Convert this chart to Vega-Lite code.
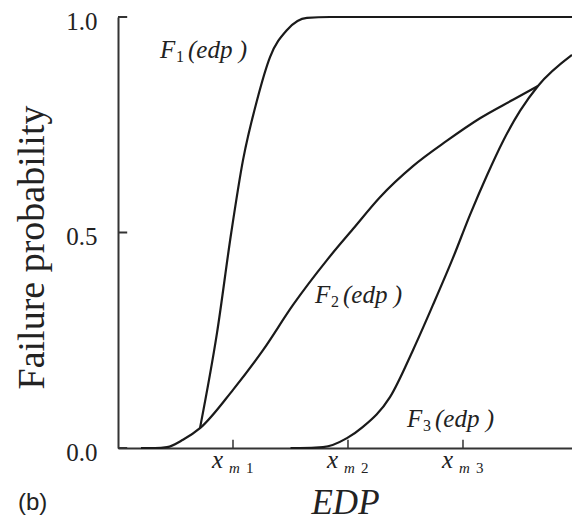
{
  "$schema": "https://vega.github.io/schema/vega-lite/v6.json",
  "width": 454,
  "height": 431,
  "autosize": {"type": "none"},
  "padding": {"left": 118, "top": 17, "right": 0, "bottom": 75},
  "background": "white",
  "config": {"view": {"stroke": null}},
  "title": {"text": "(b)", "orient": "bottom", "anchor": "start", "frame": "group", "dx": -100, "dy": -14, "font": "Liberation Sans", "fontSize": 24, "fontWeight": "normal", "color": "#222", "baseline": "alphabetic"},
  "datasets": {
    "curves": [
      {"curve": "F1", "edp": 0.713, "p": 0.046},
      {"curve": "F1", "edp": 0.861, "p": 0.267},
      {"curve": "F1", "edp": 0.985, "p": 0.5},
      {"curve": "F1", "edp": 1.087, "p": 0.668},
      {"curve": "F1", "edp": 1.209, "p": 0.807},
      {"curve": "F1", "edp": 1.322, "p": 0.907},
      {"curve": "F1", "edp": 1.47, "p": 0.97},
      {"curve": "F1", "edp": 1.643, "p": 0.998},
      {"curve": "F1", "edp": 1.843, "p": 1.0},
      {"curve": "F1", "edp": 3.948, "p": 1.0},
      {"curve": "F2", "edp": 0.2, "p": 0.0},
      {"curve": "F2", "edp": 0.322, "p": 0.0},
      {"curve": "F2", "edp": 0.426, "p": 0.002},
      {"curve": "F2", "edp": 0.565, "p": 0.019},
      {"curve": "F2", "edp": 0.713, "p": 0.046},
      {"curve": "F2", "edp": 1.0, "p": 0.135},
      {"curve": "F2", "edp": 1.261, "p": 0.227},
      {"curve": "F2", "edp": 1.522, "p": 0.332},
      {"curve": "F2", "edp": 1.817, "p": 0.436},
      {"curve": "F2", "edp": 2.043, "p": 0.508},
      {"curve": "F2", "edp": 2.278, "p": 0.582},
      {"curve": "F2", "edp": 2.565, "p": 0.654},
      {"curve": "F2", "edp": 2.861, "p": 0.713},
      {"curve": "F2", "edp": 3.148, "p": 0.765},
      {"curve": "F2", "edp": 3.435, "p": 0.808},
      {"curve": "F2", "edp": 3.652, "p": 0.84},
      {"curve": "F3", "edp": 1.5, "p": 0.0},
      {"curve": "F3", "edp": 1.583, "p": 0.0},
      {"curve": "F3", "edp": 1.783, "p": 0.002},
      {"curve": "F3", "edp": 1.991, "p": 0.023},
      {"curve": "F3", "edp": 2.13, "p": 0.049},
      {"curve": "F3", "edp": 2.365, "p": 0.118},
      {"curve": "F3", "edp": 2.565, "p": 0.227},
      {"curve": "F3", "edp": 2.739, "p": 0.332},
      {"curve": "F3", "edp": 2.913, "p": 0.441},
      {"curve": "F3", "edp": 3.061, "p": 0.541},
      {"curve": "F3", "edp": 3.209, "p": 0.633},
      {"curve": "F3", "edp": 3.348, "p": 0.712},
      {"curve": "F3", "edp": 3.496, "p": 0.782},
      {"curve": "F3", "edp": 3.652, "p": 0.84},
      {"curve": "F3", "edp": 3.948, "p": 0.912}
    ],
    "labels": [
      {"edp": 0.365, "p": 0.905, "sub": "1"},
      {"edp": 1.713, "p": 0.336, "sub": "2"},
      {"edp": 2.513, "p": 0.049, "sub": "3"}
    ],
    "xticks": [
      {"edp": 1, "p": 0, "d": "1"},
      {"edp": 2, "p": 0, "d": "2"},
      {"edp": 3, "p": 0, "d": "3"}
    ],
    "yticks": [
      {"edp": 0, "p": 0}, {"edp": 0, "p": 0.5}, {"edp": 0, "p": 1}
    ]
  },
  "encoding": {
    "x": {"field": "edp", "type": "quantitative",
          "scale": {"domain": [0, 3.948], "nice": false},
          "axis": {"title": "EDP", "labels": false, "ticks": false, "grid": false,
                   "domainColor": "#333", "domainWidth": 2,
                   "titleFont": "Liberation Serif", "titleFontStyle": "italic", "titleFontWeight": "normal",
                   "titleFontSize": 35, "titleColor": "#222", "titleBaseline": "alphabetic", "titleY": 65}},
    "y": {"field": "p", "type": "quantitative",
          "scale": {"domain": [0, 1], "nice": false},
          "axis": {"title": "Failure probability", "values": [0, 0.5, 1], "format": ".1f",
                   "ticks": false, "grid": false, "domainColor": "#333", "domainWidth": 2,
                   "labelFont": "Liberation Serif", "labelFontSize": 25, "labelColor": "#222",
                   "labelPadding": 21, "labelOffset": 4, "labelBaseline": "middle",
                   "titleFont": "Liberation Serif", "titleFontWeight": "normal", "titleFontSize": 38,
                   "titleColor": "#222", "titleAngle": 270, "titleBaseline": "alphabetic",
                   "titleAlign": "center", "titleX": -75, "titleY": 230}}
  },
  "layer": [
    {
      "data": {"name": "curves"},
      "mark": {"type": "line", "interpolate": "monotone", "strokeWidth": 2.2, "color": "#1a1a1a"},
      "encoding": {
        "detail": {"field": "curve"}
      }
    },
    {
      "data": {"name": "yticks"},
      "mark": {"type": "rule", "color": "#333", "strokeWidth": 2},
      "encoding": {
        "x2": {"datum": 0.08}
      }
    },
    {
      "data": {"name": "xticks"},
      "mark": {"type": "rule", "color": "#333", "strokeWidth": 1.5},
      "encoding": {
        "y2": {"datum": 0.019}
      }
    },
    {
      "data": {"name": "xticks"},
      "mark": {"type": "text", "text": "x", "font": "Liberation Serif", "fontStyle": "italic", "fontSize": 25, "align": "left", "baseline": "alphabetic", "dx": -21, "dy": 20, "color": "#222"}
    },
    {
      "data": {"name": "xticks"},
      "mark": {"type": "text", "text": "m", "font": "Liberation Serif", "fontStyle": "italic", "fontSize": 15, "align": "left", "baseline": "alphabetic", "dx": -4, "dy": 25, "color": "#222"}
    },
    {
      "data": {"name": "xticks"},
      "mark": {"type": "text", "font": "Liberation Serif", "fontSize": 15, "align": "left", "baseline": "alphabetic", "dx": 13, "dy": 25, "color": "#222"},
      "encoding": {
        "text": {"field": "d"}
      }
    },
    {
      "data": {"name": "labels"},
      "mark": {"type": "text", "text": "F", "font": "Liberation Serif", "fontStyle": "italic", "fontSize": 25, "align": "left", "baseline": "alphabetic", "color": "#222"}
    },
    {
      "data": {"name": "labels"},
      "mark": {"type": "text", "font": "Liberation Serif", "fontSize": 16, "align": "left", "baseline": "alphabetic", "dx": 16, "dy": 4, "color": "#222"},
      "encoding": {
        "text": {"field": "sub"}
      }
    },
    {
      "data": {"name": "labels"},
      "mark": {"type": "text", "text": "(edp )", "font": "Liberation Serif", "fontStyle": "italic", "fontSize": 25, "align": "left", "baseline": "alphabetic", "dx": 28, "color": "#222"}
    }
  ]
}
